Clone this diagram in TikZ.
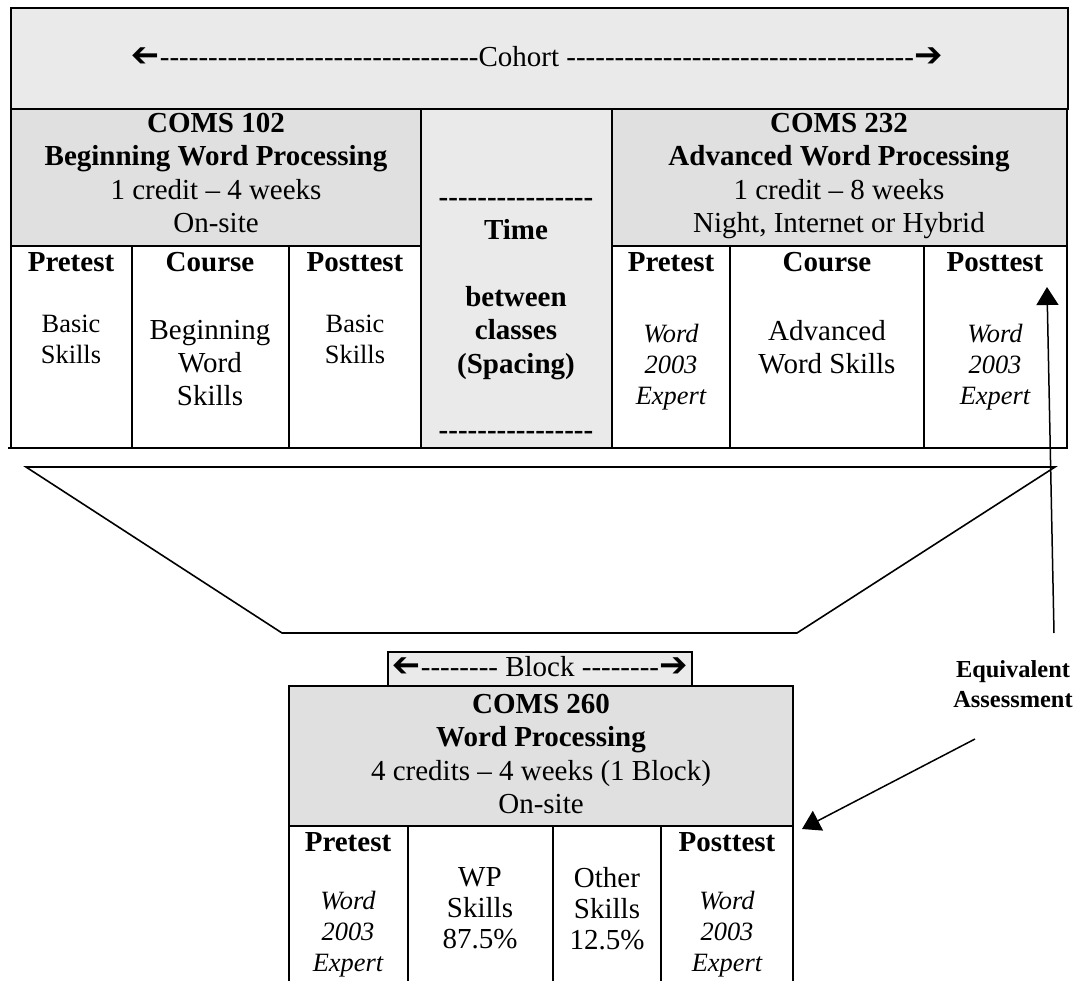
\documentclass[tikz,border=0pt]{standalone}
\usepackage{fontspec}
\setmainfont{Liberation Serif}
\newfontfamily\arrowfont{DejaVu Sans}
\usetikzlibrary{arrows.meta}
\definecolor{bandgray}{RGB}{234, 234, 234}
\definecolor{headgray}{RGB}{224, 224, 224}

\newcommand{\bigfont}{\fontsize{14.5}{16.7}\selectfont}
\newcommand{\midfont}{\fontsize{14.5}{15.5}\selectfont}
\newcommand{\smallfont}{\fontsize{13.2}{15.4}\selectfont}
\newcommand{\rarr}{{\arrowfont\fontsize{17}{17}\selectfont ➔}}
\newcommand{\larr}{\reflectbox{\rarr}}
\newcommand{\dashrun}[1]{\foreach \k in {1,...,#1}{\hbox{-}}}

\begin{document}
\begin{tikzpicture}[x=0.5pt, y=-0.5pt, font=\bigfont,
  txt/.style={align=center, inner sep=0pt, execute at begin node=\strut, execute at end node=\strut},
  cell/.style={draw, line width=1.1pt},
  trap/.style={draw, line width=0.8pt},
  conn/.style={line width=0.75pt, -{Triangle[length=9pt, width=11pt]}}]
  \useasboundingbox (0,0) rectangle (1084,981);

  % Cohort band
  \draw[cell, fill=bandgray] (11,8) rectangle (1068,109);
  \node[txt] (cohort) at (537,60) {\larr\dashrun{33}Cohort \dashrun{36}\rarr};

  % Course headers and spacing column
  \draw[cell, fill=headgray] (11,109) rectangle (421,246);
  \draw[cell, fill=bandgray] (421,109) rectangle (612,448);
  \draw[cell, fill=headgray] (612,109) rectangle (1067,246);
  \foreach \a/\b in {11/132, 132/289, 289/421, 612/730, 730/924, 924/1067}
    \draw[cell] (\a,246) rectangle (\b,448);
  \draw[cell] (8,448) -- (421,448);

  \node[txt] (coms102) at (216,178) {\textbf{COMS 102}\\ \textbf{Beginning Word Processing}\\ 1 credit -- 4 weeks\\ On-site};
  \node[txt] (time) at (516,324) {\textbf{\dashrun{16}}\\ \textbf{Time}\\ ~\\ \textbf{between}\\ \textbf{classes}\\ \textbf{(Spacing)}\\ ~\\ \textbf{\dashrun{16}}};
  \node[txt] (coms232) at (839,178) {\textbf{COMS 232}\\ \textbf{Advanced Word Processing}\\ 1 credit -- 8 weeks\\ Night, Internet or Hybrid};

  % Sub-columns, first course
  \node[txt, font=\bigfont\bfseries] (pre102) at (71,265) {Pretest};
  \node[txt, font=\bigfont\bfseries] (crs102) at (210,265) {Course};
  \node[txt, font=\bigfont\bfseries] (post102) at (355,265) {Posttest};
  \node[txt, font=\smallfont] (basicA) at (71,344) {Basic\\ Skills};
  \node[txt] (begskills) at (210,368) {Beginning\\ Word\\ Skills};
  \node[txt, font=\smallfont] (basicB) at (355,344) {Basic\\ Skills};

  % Sub-columns, second course
  \node[txt, font=\bigfont\bfseries] (pre232) at (671,265) {Pretest};
  \node[txt, font=\bigfont\bfseries] (crs232) at (827,265) {Course};
  \node[txt, font=\bigfont\bfseries] (post232) at (995,265) {Posttest};
  \node[txt, font=\smallfont\itshape] (expertA) at (671,369) {Word\\ 2003\\ Expert};
  \node[txt] (advskills) at (827,352) {Advanced\\ Word Skills};
  \node[txt, font=\smallfont\itshape] (expertB) at (995,369) {Word\\ 2003\\ Expert};

  % Funnel
  \draw[trap] (26,467) -- (1055,467) -- (797,633) -- (282,633) -- cycle;

  % Block course
  \draw[cell, fill=bandgray] (388,652) rectangle (692,686);
  \node[txt] (block) at (540,670) {\larr\dashrun{8} Block \dashrun{8}\rarr};
  \draw[cell, fill=headgray] (289,686) rectangle (793,826);
  \node[txt] (coms260) at (541,759) {\textbf{COMS 260}\\ \textbf{Word Processing}\\ 4 credits -- 4 weeks (1 Block)\\ On-site};
  \foreach \a/\b in {289/408, 408/553, 553/661, 661/793}
    \draw[cell] (\a,995) |- (\b,826) -- (\b,995);

  \node[txt, font=\bigfont\bfseries] (pre260) at (348,845) {Pretest};
  \node[txt, font=\bigfont\bfseries] (post260) at (727,845) {Posttest};
  \node[txt, font=\smallfont\itshape] (expertC) at (348,936) {Word\\ 2003\\ Expert};
  \node[txt, font=\midfont] (wp) at (480,913) {WP\\ Skills\\ 87.5\%};
  \node[txt, font=\midfont] (other) at (607,913) {Other\\ Skills\\ 12.5\%};
  \node[txt, font=\smallfont\itshape] (expertD) at (727,936) {Word\\ 2003\\ Expert};

  % Equivalent assessment
  \node[txt, font=\fontsize{12.2}{15}\selectfont\bfseries] (equiv) at (1013,689) {Equivalent\\ Assessment};
  \coordinate (upfrom) at (1054,633);
  \coordinate (upto) at (1047,287);
  \coordinate (downfrom) at (975,739);
  \coordinate (downto) at (802,829);
  \draw[conn] (upfrom) -- (upto);
  \draw[conn] (downfrom) -- (downto);
\end{tikzpicture}
\end{document}
